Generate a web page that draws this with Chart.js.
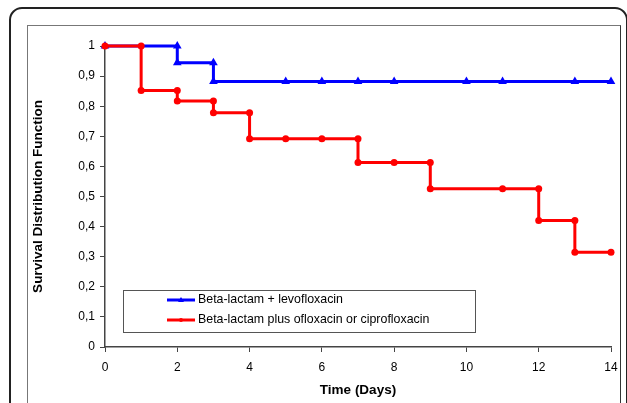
<!DOCTYPE html>
<html>
<head>
<meta charset="utf-8">
<script src="https://cdn.jsdelivr.net/npm/chart.js@4"></script>
<style>
  html, body { margin: 0; padding: 0; background: #fff; overflow: hidden; }
  #wrap { position: relative; width: 627px; height: 403px; }
  #outer {
    position: absolute; left: 9px; top: 7px; width: 619px; height: 460px;
    box-sizing: border-box; border: 2px solid #222; border-radius: 13px;
  }
  #inner {
    position: absolute; left: 27px; top: 25px; width: 594px; height: 460px;
    box-sizing: border-box; border: 1px solid #777; border-right-color: #333;
  }
  canvas { position: absolute; left: 0; top: 0; }
</style>
</head>
<body>
<div id="wrap">
  <div id="outer"></div>
  <div id="inner"></div>
  <canvas id="chart" width="627" height="403"></canvas>
</div>
<script>
var FONT = "'Liberation Sans', Arial, sans-serif";

var levoLabel = "Beta-lactam + levofloxacin";
var levoDays = [0, 2, 2, 3, 3, 5, 6, 7, 8, 10, 11, 13, 14];
var levoSurv = [1, 1, 0.944, 0.944, 0.882, 0.882, 0.882, 0.882, 0.882, 0.882, 0.882, 0.882, 0.882];

var cipLabel = "Beta-lactam plus ofloxacin or ciprofloxacin";
var cipDays = [0, 1, 1, 2, 2, 3, 3, 4, 4, 5, 6, 7, 7, 8, 9, 9, 11, 12, 12, 13, 13, 14];
var cipSurv = [1, 1, 0.852, 0.852, 0.817, 0.817, 0.778, 0.778, 0.692, 0.692, 0.692, 0.692,
  0.613, 0.613, 0.613, 0.526, 0.526, 0.526, 0.42, 0.42, 0.315, 0.315];

var yTickLabels = ["0", "0,1", "0,2", "0,3", "0,4", "0,5", "0,6", "0,7", "0,8", "0,9", "1"];
var xTitle = "Time (Days)";
var yTitle = "Survival Distribution Function";

function toPoints(xs, ys) {
  return xs.map(function (x, i) {
    return { x: x, y: ys[i] };
  });
}

// legend drawn as a boxed list inside the plot, Excel style
var boxLegend = {
  id: "boxLegend",
  afterDraw: function (chart) {
    var ctx = chart.ctx;
    var area = chart.chartArea;
    var left = area.left + 18;
    var top = area.top + 244;
    var w = 352, h = 42;
    ctx.save();
    ctx.fillStyle = "#fff";
    ctx.fillRect(left, top, w, h);
    ctx.strokeStyle = "#555";
    ctx.lineWidth = 1;
    ctx.strokeRect(left + 0.5, top + 0.5, w, h);
    var items = [chart.data.datasets[0], chart.data.datasets[1]];
    items.forEach(function (ds, i) {
      var y = top + 10 + i * 20;
      ctx.strokeStyle = ds.borderColor;
      ctx.lineWidth = 3;
      ctx.beginPath();
      ctx.moveTo(left + 44, y);
      ctx.lineTo(left + 72, y);
      ctx.stroke();
      ctx.fillStyle = ds.borderColor;
      ctx.beginPath();
      if (ds.pointStyle === "triangle") {
        ctx.moveTo(left + 58, y - 3);
        ctx.lineTo(left + 61, y + 2);
        ctx.lineTo(left + 55, y + 2);
      } else {
        ctx.arc(left + 58, y, 2, 0, Math.PI * 2);
      }
      ctx.fill();
      ctx.fillStyle = "#000";
      ctx.font = "12.4px " + FONT;
      ctx.textBaseline = "middle";
      ctx.fillText(ds.label, left + 75, y);
    });
    ctx.restore();
  },
};

new Chart(document.getElementById("chart"), {
  type: "scatter",
  data: {
    datasets: [
      {
        label: levoLabel,
        data: toPoints(levoDays, levoSurv),
        showLine: true,
        borderColor: "#0000ff",
        backgroundColor: "#0000ff",
        borderWidth: 3,
        pointStyle: "triangle",
        pointRadius: 5,
        pointBorderWidth: 0,
        clip: false,
        order: 1,
      },
      {
        label: cipLabel,
        data: toPoints(cipDays, cipSurv),
        showLine: true,
        borderColor: "#ff0000",
        backgroundColor: "#ff0000",
        borderWidth: 3,
        pointStyle: "circle",
        pointRadius: 3.5,
        pointBorderWidth: 0,
        clip: false,
        order: 0,
      },
    ],
  },
  options: {
    responsive: false,
    animation: false,
    layout: { padding: { left: 27, top: 46, right: 16, bottom: 0 } },
    plugins: {
      legend: { display: false },
      tooltip: { enabled: false },
    },
    scales: {
      x: {
        type: "linear",
        min: 0,
        max: 14,
        afterFit: function (scale) { scale.height = 56; },
        border: { display: true, color: "#444", width: 1.5 },
        grid: { drawOnChartArea: false, drawTicks: true, tickLength: 5, color: "#444" },
        ticks: { stepSize: 2, color: "#000", padding: 8, font: { family: FONT, size: 12 } },
        title: {
          display: true,
          text: xTitle,
          color: "#000",
          padding: { top: 4, bottom: 5 },
          font: { family: FONT, size: 13.5, weight: "bold" },
        },
      },
      y: {
        min: 0,
        max: 1,
        afterFit: function (scale) { scale.width = 78; },
        border: { display: true, color: "#444", width: 1.5 },
        grid: { drawOnChartArea: false, drawTicks: true, tickLength: 5, color: "#444" },
        ticks: {
          stepSize: 0.1,
          color: "#000",
          padding: 5,
          font: { family: FONT, size: 12 },
          callback: function (value, index) { return yTickLabels[index]; },
        },
        title: {
          display: true,
          text: yTitle,
          color: "#000",
          padding: { top: 3, bottom: 4 },
          font: { family: FONT, size: 13.5, weight: "bold" },
        },
      },
    },
  },
  plugins: [boxLegend],
});
</script>
</body>
</html>
